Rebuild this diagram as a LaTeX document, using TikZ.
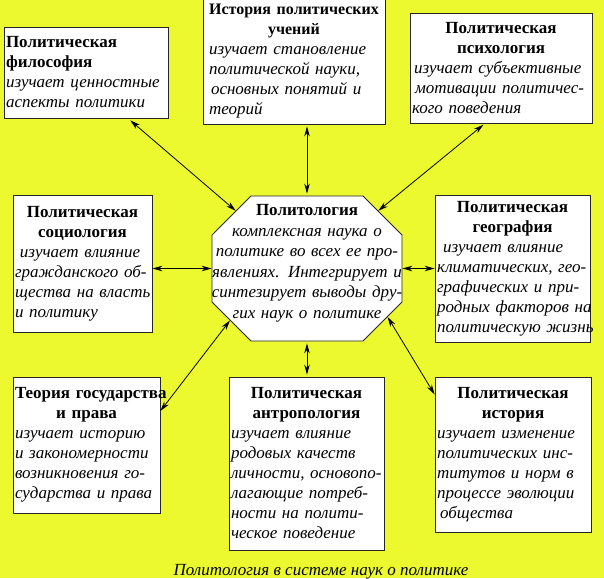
\documentclass[tikz,border=0pt]{standalone}
\usepackage{fontspec}
\setmainfont{Liberation Serif}
\usetikzlibrary{arrows.meta,shapes.misc}
\definecolor{fon}{RGB}{236,249,46}
\newcommand{\kursiv}{\fontsize{17}{20}\selectfont\itshape\rightskip=0pt minus 60pt\relax}

\begin{document}
\begin{tikzpicture}[x=1pt,y=-1pt,
  box/.style={draw=black!85, fill=white, line width=0.8pt, inner xsep=2pt, inner ysep=3pt, align=left,
    font=\fontsize{17}{20}\selectfont},
  oct/.style={box, chamfered rectangle, chamfered rectangle xsep=36pt, align=center,
    text width=190pt, inner xsep=-36pt, inner ysep=1pt, minimum height=145pt},
  kurs/.style={font=\kursiv},
  >={Stealth[length=10pt,width=5.5pt]}]
	\useasboundingbox (0,0) rectangle (604,578);
	\fill[fon] (0,0) rectangle (604,578);
	% центр
	\node[oct] (p) at (307,268.5) {{\bfseries Политология\par}\fontsize{17}{20.5}\selectfont\itshape
		\leftskip=0pt plus 1fil minus 30pt\rightskip=0pt plus 1fil minus 30pt\relax
		комплексная наука о\\политике во всех ее про-\\явлениях. Интегрирует и\\синтезирует выводы дру-\\гих наук о политике\\[-6pt]\mbox{}\par};
	% верхний ряд
	\node[box, minimum width=164pt, minimum height=91pt, text width=160pt] (a) at (86,72.5) {{\bfseries Политическая\\философия\par}\kursiv изучает ценностные\\аспекты политики\par};
	\node[box, minimum width=182pt, minimum height=126pt, text width=178pt] (b) at (294,61) {{\centering\bfseries\fontsize{16}{20}\selectfont\mbox{История политических}\\учений\par}\kursiv\hspace*{4pt}изучает становление\\\hspace*{4pt}политической науки,\\\hspace*{6pt}основных понятий и\\\hspace*{4pt}теорий\par};
	\node[box, minimum width=182pt, minimum height=110pt, text width=178pt] (c) at (501,68) {{\centering\bfseries Политическая\\психология\par}\kursiv\hspace*{2pt}изучает субъективные\\\hspace*{3pt}мотивации политичес-\\кого поведения\par};
	% средний ряд
	\node[box, minimum width=139pt, minimum height=137pt, text width=135pt] (d) at (82.5,263.5) {{\centering\bfseries Политическая\\социология\par}\kursiv\hspace*{5pt}изучает влияние\\гражданского об-\\щества на власть\\и политику\par};
	\node[box, minimum width=155pt, minimum height=147pt, text width=151pt] (e) at (512.5,268.5) {{\centering\bfseries Политическая\\география\par}\kursiv\hspace*{6pt}изучает влияние\\климатических, гео-\\графических и при-\\родных факторов на\\политическую жизнь\par};
	% нижний ряд
	\node[box, minimum width=147pt, minimum height=136pt, text width=143pt] (f) at (86.5,445) {{\bfseries\mbox{Теория государства}\par\centering и права\par}\kursiv изучает историю\\и закономерности\\возникновения го-\\сударства и права\par};
	\node[box, minimum width=155pt, minimum height=173pt, text width=151pt] (g) at (306.5,463.5) {{\centering\bfseries Политическая\\антропология\par}\kursiv изучает влияние\\родовых качеств\\личности, основопо-\\лагающие потреб-\\ности на полити-\\ческое поведение\par};
	\node[box, minimum width=156pt, minimum height=155pt, text width=152pt] (h) at (513,454.5) {{\centering\bfseries Политическая\\история\par}\kursiv изучает изменение\\политических инс-\\титутов и норм в\\процессе эволюции\\\hspace*{3pt}общества\par};
	\node[kurs] (cap) at (321,572) {Политология в системе наук о политике};
	% стрелки
	\draw[<->, line width=0.8pt, shorten <=3pt] ([xshift=42pt]a.south) to (p.141);
	\draw[<->, line width=0.8pt, shorten <=2pt, shorten >=2pt] (b.south -| p.north) to (p.north);
	\draw[<->, line width=0.8pt, shorten <=2pt] ([xshift=-16pt]c.south) to (p.39);
	\draw[<->, line width=0.8pt] (d.east |- p.west) to (p.west);
	\draw[<->, line width=0.8pt] (p.east) to (e.west |- p.east);
	\draw[<->, line width=0.8pt] ([yshift=34pt]f.east) to (p.214);
	\draw[<->, line width=0.8pt, shorten <=2pt, shorten >=2pt] (p.south) to (g.north -| p.south);
	\draw[<->, line width=0.8pt] (p.329) to ([yshift=60pt]h.west);
\end{tikzpicture}
\end{document}
